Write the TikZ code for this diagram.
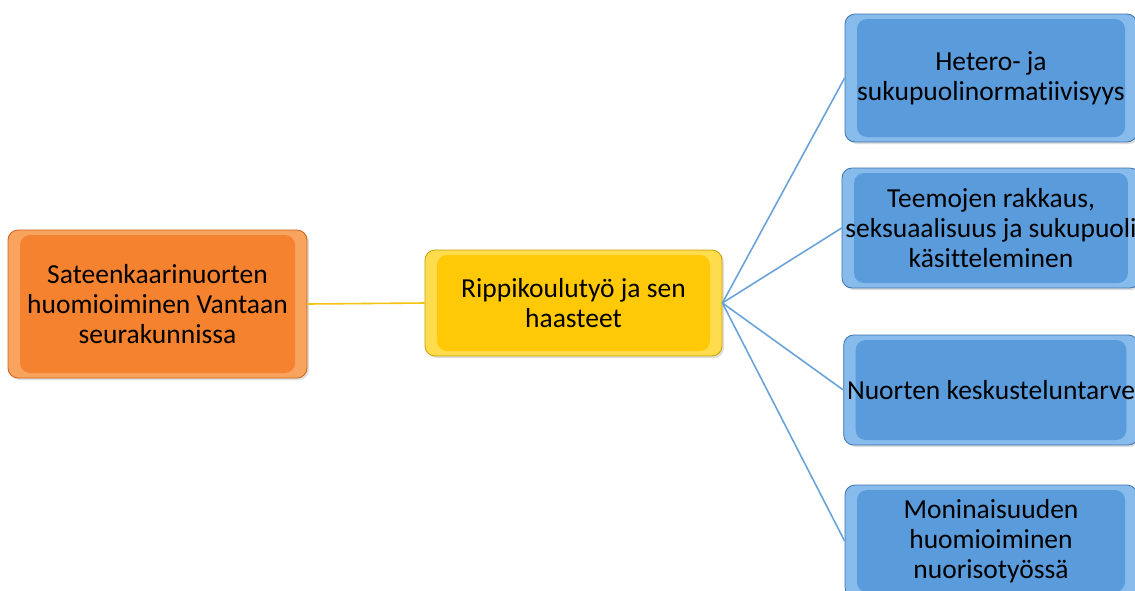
\documentclass[tikz,border=0pt]{standalone}
\usepackage{fontspec}
\setmainfont[Ligatures={NoCommon}]{Carlito}
\usepackage{xcolor}
\usepackage{tikz}
\usetikzlibrary{positioning, shadows}

\definecolor{orangeMain}{HTML}{F5822E}
\definecolor{orangeBevel}{HTML}{F9A45E}
\definecolor{orangeEdge}{HTML}{C9621C}
\definecolor{yellowMain}{HTML}{FFC907}
\definecolor{yellowBevel}{HTML}{FFDC4E}
\definecolor{yellowEdge}{HTML}{C99E00}
\definecolor{blueMain}{HTML}{5A9BDB}
\definecolor{blueBevel}{HTML}{86BBEB}
\definecolor{blueEdge}{HTML}{3B73AE}
\definecolor{yellowLine}{HTML}{F2C30F}
\definecolor{blueLine}{HTML}{6AA3DA}

\begin{document}
\begin{tikzpicture}[
        x=1pt, y=-1pt,
        % Define styles for consistency
        topic/.style={
            rectangle,
            rounded corners=10pt,
            thick,
            align=center,
            font=\fontsize{27.5}{30}\selectfont,
            drop shadow={opacity=0.25, shadow xshift=2pt, shadow yshift=-2pt}
        },
        bevel/.style={
            path picture={
                \fill[#1]
                    ([xshift=12pt, yshift=-5pt]path picture bounding box.north west)
                    -- ([xshift=-12pt, yshift=-5pt]path picture bounding box.north east)
                    -- ([xshift=-12pt, yshift=5pt]path picture bounding box.south east)
                    -- ([xshift=12pt, yshift=5pt]path picture bounding box.south west)
                    -- cycle;
            }
        },
        mainBox/.style={
            topic,
            draw=orangeEdge,
            fill=orangeBevel,
            bevel=orangeMain,
            minimum width=299pt,
            minimum height=148pt
        },
        midBox/.style={
            topic,
            draw=yellowEdge,
            fill=yellowBevel,
            bevel=yellowMain,
            minimum width=297pt,
            minimum height=106pt
        },
        subBox/.style={
            topic,
            draw=blueEdge,
            fill=blueBevel,
            bevel=blueMain,
            minimum width=292pt
        },
        yline/.style={
            draw=yellowLine,
            line width=1.6pt
        },
        bline/.style={
            draw=blueLine,
            line width=1.6pt
        }
    ]

    \useasboundingbox (0,0) rectangle (1135,590);
    \clip (0,0) rectangle (1135,590);

    % --- MAIN TOPIC ---
    \node[mainBox] (main) at (157.5,304) {Sateenkaarinuorten\\huomioiminen Vantaan\\seurakunnissa};

    % --- CONFIRMATION SCHOOL ---
    \node[midBox] (rippi) at (573.5,303) {Rippikoulutyö ja sen\\haasteet};

    % --- SUBTOPICS ---
    \node[subBox, minimum height=128pt] (hetero) at (991,78) {Hetero- ja\\sukupuolinormatiivisyys};
    \node[subBox, minimum height=120pt] (teemat) at (991,228) {Teemojen rakkaus,\\seksuaalisuus ja sukupuoli\\käsitteleminen};
    \node[subBox, minimum height=110pt] (tarve) at (991,390) {Nuorten keskusteluntarve};
    \node[subBox, minimum height=112pt] (moni) at (991,541) {Moninaisuuden\\huomioiminen\\nuorisotyössä};

    % Connections
    \draw[yline] (main.east) -- (rippi.west);
    \draw[bline] (rippi.east) -- (hetero.west);
    \draw[bline] (rippi.east) -- (teemat.west);
    \draw[bline] (rippi.east) -- (tarve.west);
    \draw[bline] (rippi.east) -- (moni.west);

\end{tikzpicture}
\end{document}
